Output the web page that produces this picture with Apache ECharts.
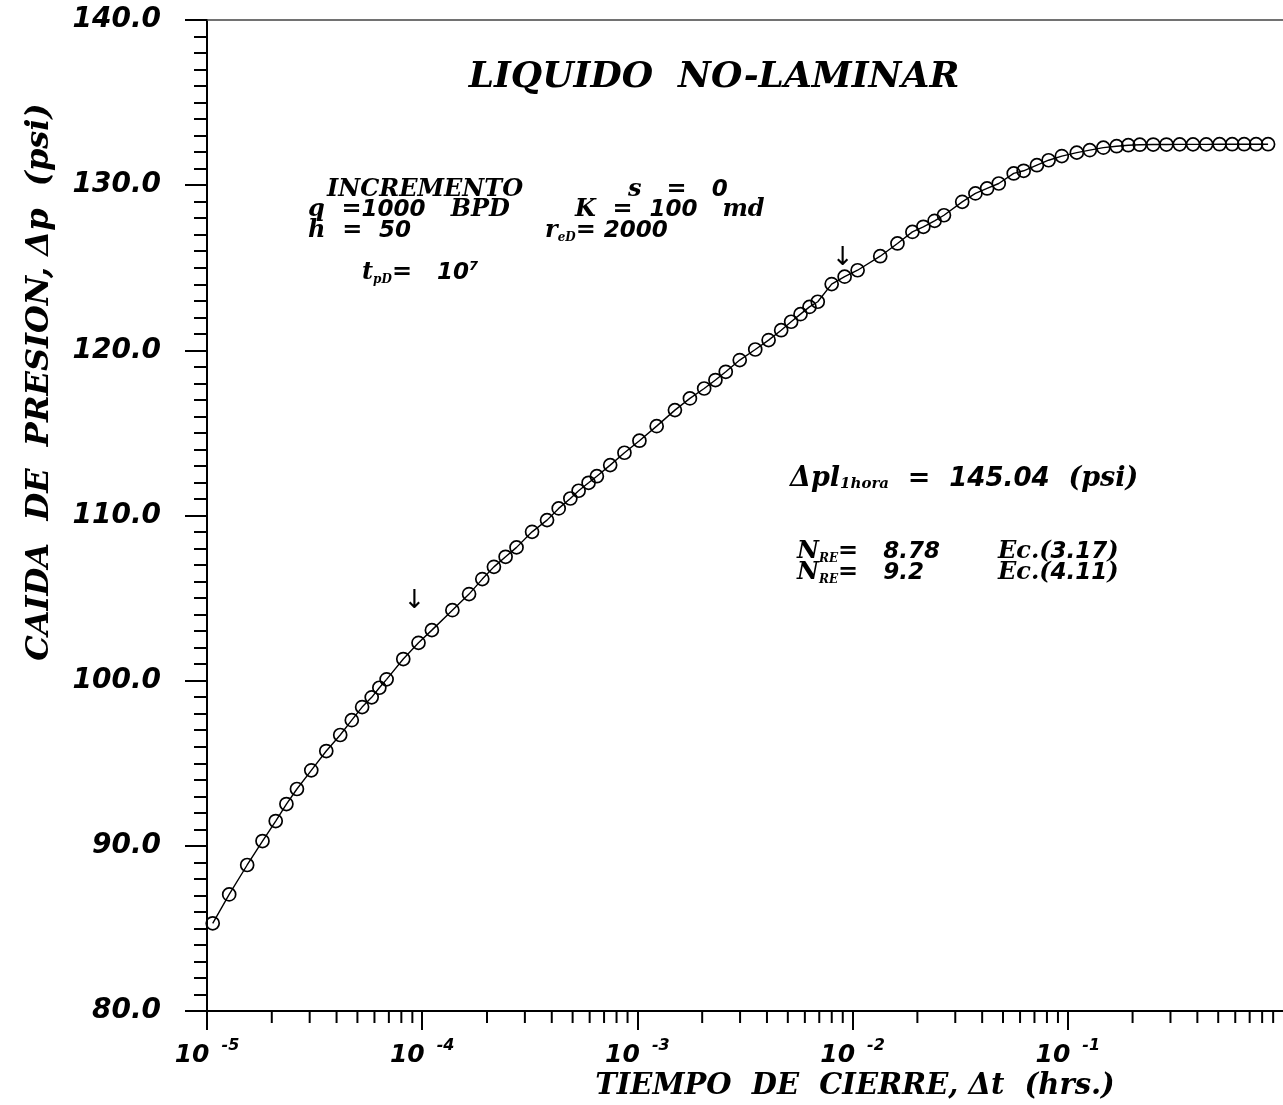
<!DOCTYPE html>
<html>
<head>
<meta charset="utf-8">
<title>LIQUIDO NO-LAMINAR</title>
<script src="https://cdn.jsdelivr.net/npm/echarts@6/dist/echarts.min.js"></script>
<style>
  html, body { margin: 0; padding: 0; background: #fff; }
  #chart { width: 1283px; height: 1105px; }
</style>
</head>
<body>
<div id="chart"></div>
<script>
// Shut-in time, hours
const tiempo = [
  1.063e-5, 1.268e-5, 1.537e-5, 1.811e-5, 2.086e-5, 2.339e-5, 2.618e-5, 3.052e-5,
  3.583e-5, 4.159e-5, 4.707e-5, 5.258e-5, 5.825e-5, 6.322e-5, 6.834e-5, 8.166e-5,
  9.613e-5, 1.109e-4, 1.381e-4, 1.651e-4, 1.902e-4, 2.154e-4, 2.441e-4, 2.744e-4,
  3.240e-4, 3.803e-4, 4.308e-4, 4.880e-4, 5.331e-4, 5.931e-4, 6.480e-4, 7.474e-4,
  8.706e-4, 1.022e-3, 1.229e-3, 1.494e-3, 1.754e-3, 2.043e-3, 2.305e-3, 2.574e-3,
  2.989e-3, 3.529e-3, 4.071e-3, 4.657e-3, 5.181e-3, 5.727e-3, 6.304e-3, 6.887e-3,
  7.993e-3, 9.183e-3, 1.055e-2, 1.344e-2, 1.616e-2, 1.896e-2, 2.132e-2, 2.404e-2,
  2.658e-2, 3.231e-2, 3.722e-2, 4.217e-2, 4.777e-2, 5.606e-2, 6.235e-2, 7.186e-2,
  8.142e-2, 9.380e-2, 0.1101, 0.1265, 0.1463, 0.1686, 0.1910, 0.2161,
  0.2494, 0.2873, 0.3311, 0.3818, 0.4399, 0.5072, 0.5806, 0.6599, 0.7499, 0.8524
];
// Pressure drop, psi
const caida = [
  85.31, 87.06, 88.84, 90.29, 91.50, 92.53, 93.44, 94.57,
  95.74, 96.71, 97.61, 98.40, 98.99, 99.57, 100.08, 101.31,
  102.29, 103.06, 104.27, 105.24, 106.15, 106.89, 107.50, 108.07,
  109.01, 109.72, 110.43, 111.03, 111.50, 111.98, 112.38, 113.05,
  113.80, 114.53, 115.41, 116.38, 117.09, 117.69, 118.20, 118.70,
  119.41, 120.05, 120.62, 121.22, 121.73, 122.19, 122.63, 122.94,
  124.01, 124.46, 124.85, 125.70, 126.47, 127.17, 127.48, 127.84,
  128.18, 128.99, 129.50, 129.80, 130.10, 130.71, 130.87, 131.21,
  131.51, 131.76, 131.97, 132.12, 132.27, 132.36, 132.42, 132.45,
  132.46, 132.46, 132.47, 132.47, 132.47, 132.48, 132.48, 132.48, 132.48, 132.48
];
// Arrows marking the straight-line interval [t, p]
const flechas = [[9.2e-5, 104.8], [8.99e-3, 125.6]];

// Axis ranges
const X_MIN = 1e-5, X_MAX = 1;
const Y_MIN = 80, Y_MAX = 140, Y_STEP = 10;

// Intermediate log ticks (2..9 within each decade)
const menores = [];
for (let d = -5; d < 0; d++) {
  for (let k = 2; k <= 9; k++) menores.push([k * Math.pow(10, d), Y_MIN]);
}

const SERIF = 'DejaVu Serif';
const SANS = 'DejaVu Sans';

function estilos(big) {
  const f = big ? 27 : 24;
  const n = big ? 26 : 23;
  const s = big ? 15 : 12;
  return {
    L: { fontFamily: SERIF, fontStyle: 'italic', fontWeight: 'bold', fontSize: f, color: '#000', lineHeight: 26 },
    N: { fontFamily: SANS, fontStyle: 'italic', fontWeight: 'bold', fontSize: n, color: '#000', lineHeight: 26 },
    sub: { fontFamily: SERIF, fontStyle: 'italic', fontWeight: 'bold', fontSize: s, color: '#000', lineHeight: 26, verticalAlign: 'bottom' },
    sup: { fontFamily: SANS, fontStyle: 'italic', fontWeight: 'bold', fontSize: 13, color: '#000', lineHeight: 26, verticalAlign: 'top' }
  };
}

function nota(text, x, y, big) {
  return {
    type: 'text', x: x, y: y, silent: true,
    style: { text: text, rich: estilos(big), align: 'left', verticalAlign: 'middle', textAlign: 'left', textVerticalAlign: 'middle' }
  };
}

function rotulo(text, x, y, size, rot) {
  return {
    type: 'text', x: x, y: y, rotation: rot || 0, silent: true,
    style: {
      text: text, fill: '#000',
      fontFamily: SERIF, fontStyle: 'italic', fontWeight: 'bold', fontSize: size,
      align: 'center', verticalAlign: 'middle', textAlign: 'center', textVerticalAlign: 'middle'
    }
  };
}

const chart = echarts.init(document.getElementById('chart'), null, { renderer: 'canvas' });

chart.setOption({
  backgroundColor: '#fff',
  animation: false,
  grid: { left: 207, top: 20, right: 0, bottom: 94, show: false },
  xAxis: [
    {
      type: 'log', logBase: 10, min: X_MIN, max: X_MAX,
      axisLine: { show: true, lineStyle: { color: '#000', width: 2 } },
      axisTick: { show: true, inside: false, length: 19, lineStyle: { color: '#000', width: 2 } },
      splitLine: { show: false },
      axisLabel: {
        show: true, interval: 0, margin: 27, showMaxLabel: false,
        formatter: function (v) {
          const e = Math.round(Math.log10(v));
          return '{b|10}{s|' + e + '}';
        },
        rich: {
          b: { fontFamily: SANS, fontStyle: 'italic', fontWeight: 'bold', fontSize: 25, color: '#000', lineHeight: 34 },
          s: { fontFamily: SANS, fontStyle: 'italic', fontWeight: 'bold', fontSize: 16, color: '#000', lineHeight: 34, verticalAlign: 'top', padding: [0, 0, 0, 12] }
        }
      }
    },
    {
      // frame line along the top of the plot
      type: 'log', logBase: 10, min: X_MIN, max: X_MAX, position: 'top',
      axisLine: { show: true, lineStyle: { color: '#444', width: 1.5 } },
      axisTick: { show: false }, axisLabel: { show: false }, splitLine: { show: false }
    }
  ],
  yAxis: {
    type: 'value', min: Y_MIN, max: Y_MAX, interval: Y_STEP,
    axisLine: { show: true, lineStyle: { color: '#000', width: 2 } },
    axisTick: { show: true, inside: false, length: 22, lineStyle: { color: '#000', width: 2 } },
    minorTick: { show: true, splitNumber: 10, length: 13, lineStyle: { color: '#000', width: 2 } },
    splitLine: { show: false },
    axisLabel: {
      margin: 46,
      fontFamily: SANS, fontStyle: 'italic', fontWeight: 'bold', fontSize: 28, color: '#000',
      formatter: function (v) { return v.toFixed(1); }
    }
  },
  series: [
    {
      type: 'line',
      name: 'Δp',
      data: tiempo.map((t, i) => [t, caida[i]]),
      color: '#000',
      symbol: 'circle',
      symbolSize: 13,
      itemStyle: { color: 'rgba(0,0,0,0)', borderColor: '#000', borderWidth: 1.7 },
      lineStyle: { color: '#000', width: 1.4 },
      z: 3,
      markPoint: {
        symbol: 'circle', symbolSize: 1,
        itemStyle: { color: 'rgba(0,0,0,0)' },
        label: { show: true, position: 'inside', formatter: '↓', fontFamily: SANS, fontSize: 26, color: '#000' },
        data: flechas.map(c => ({ coord: c }))
      }
    },
    {
      // intermediate log ticks under the time axis
      type: 'custom',
      silent: true,
      clip: false,
      data: menores,
      renderItem: function (params, api) {
        const p = api.coord([api.value(0), api.value(1)]);
        return {
          type: 'line',
          shape: { x1: p[0], y1: p[1], x2: p[0], y2: p[1] + 12 },
          style: { stroke: '#000', lineWidth: 2 }
        };
      }
    }
  ],
  graphic: [
    rotulo('LIQUIDO  NO-LAMINAR', 714, 78, 36),
    rotulo('TIEMPO  DE  CIERRE, Δt  (hrs.)', 855, 1086, 29),
    rotulo('CAIDA  DE  PRESION, Δp  (psi)', 40, 382, 32, Math.PI / 2),
    nota('{L|INCREMENTO}', 327, 190),
    nota('{L|s   =   }{N|0}', 628, 190),
    nota('{L|q  =}{N|1000}{L|   BPD}', 308, 210),
    nota('{L|K  =  }{N|100}{L|   md}', 575, 210),
    nota('{L|h  =  }{N|50}', 308, 231),
    nota('{L|r}{sub|eD}{L|=}{N| 2000}', 545, 231),
    nota('{L|t}{sub|pD}{L|=   }{N|10}{sup|7}', 362, 273),
    nota('{L|Δpl}{sub|1hora}{L|  =  }{N|145.04}{L|  (psi)}', 790, 479, true),
    nota('{L|N}{sub|RE}{L|=   }{N|8.78}', 797, 552),
    nota('{L|Ec.(}{N|3.17}{L|)}', 998, 552),
    nota('{L|N}{sub|RE}{L|=   }{N|9.2}', 797, 573),
    nota('{L|Ec.(}{N|4.11}{L|)}', 998, 573)
  ]
});
</script>
</body>
</html>
